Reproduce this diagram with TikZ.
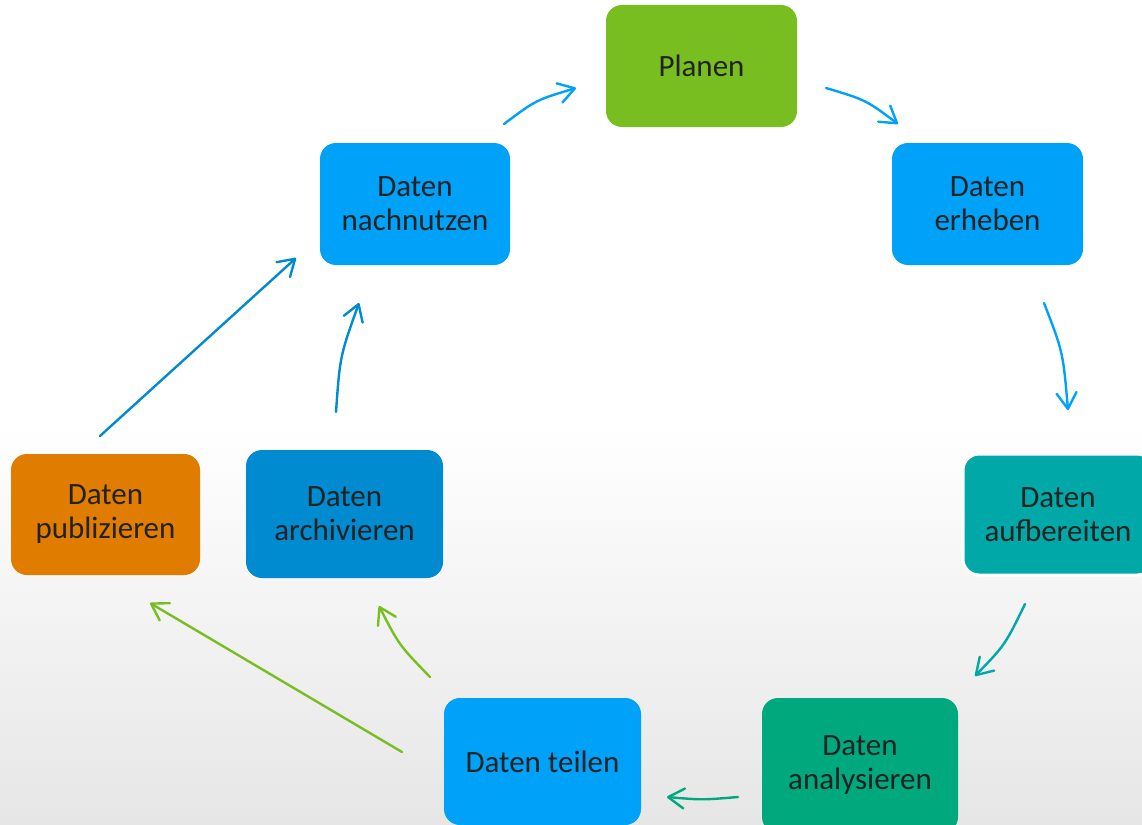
\documentclass[tikz,border=0pt]{standalone}
\usepackage{fontspec}
\setmainfont{Carlito}
\usetikzlibrary{arrows.meta}
\definecolor{cgreen}{HTML}{79BE21}
\definecolor{cblue}{HTML}{00A1F9}
\definecolor{cdblue}{HTML}{008AD0}
\definecolor{cteal}{HTML}{00A9A8}
\definecolor{cmint}{HTML}{00A87E}
\definecolor{corange}{HTML}{E07C00}
\definecolor{ctext}{HTML}{222222}
\definecolor{cbgbot}{HTML}{E6E6E6}
\tikzset{
  box/.style={rectangle, rounded corners=16pt, inner sep=0pt, align=center,
    text=ctext, font=\fontsize{31}{34}\selectfont},
  arr/.style={line width=2.4pt, line cap=round,
    -{Straight Barb[length=16pt,width=20pt,round]}},
}
\begin{document}
\begin{tikzpicture}[x=1pt,y=-1pt]
\useasboundingbox (0,0) rectangle (1142,824);
\fill[white] (0,0) rectangle (1142,824);
\shade[top color=white, bottom color=cbgbot] (0,425) rectangle (1142,824);

% nodes
\node[box, fill=cgreen, minimum width=191pt, minimum height=122pt] (plan) at (701.5,66) {Planen};
\node[box, fill=cblue, minimum width=191pt, minimum height=122pt] (erh) at (987.5,204) {Daten\\erheben};
\node[box, fill=cblue, minimum width=190pt, minimum height=122pt] (nach) at (415,204) {Daten\\nachnutzen};
\node[box, fill=cteal, draw=white, line width=3pt, minimum width=190pt, minimum height=121pt] (aufb) at (1058,514.5) {Daten\\aufbereiten};
\node[box, fill=corange, minimum width=189pt, minimum height=121pt] (publ) at (105.5,514.5) {\raisebox{-2pt}{\begin{tabular}{@{}c@{}}Daten\\publizieren\end{tabular}}};
\node[box, fill=cdblue, minimum width=197pt, minimum height=128pt] (arch) at (344.5,514) {Daten\\archivieren};
\node[box, fill=cblue, minimum width=197pt, minimum height=127pt] (teil) at (542.5,761.5) {Daten teilen};
\node[box, fill=cmint, minimum width=196pt, minimum height=135pt] (anal) at (860,765.5) {Daten\\analysieren};

% connector end points
\coordinate (a1s) at (504,124);  \coordinate (a1e) at (576,88);
\coordinate (a2s) at (826,88);   \coordinate (a2e) at (898,124);
\coordinate (a3s) at (1044,303); \coordinate (a3e) at (1068,410);
\coordinate (a4s) at (1025,604); \coordinate (a4e) at (975,676);
\coordinate (a5s) at (738,797);  \coordinate (a5e) at (667,797);
\coordinate (a6s) at (430,677);  \coordinate (a6e) at (379,606);
\coordinate (a7s) at (402,752);  \coordinate (a7e) at (150,603);
\coordinate (a8s) at (336,412);  \coordinate (a8e) at (359,303);
\coordinate (a9s) at (100,436);  \coordinate (a9e) at (296,258);

% connectors
\draw[arr, cblue] (a1s) .. controls (536,100) .. (a1e);
\draw[arr, cblue] (a2s) .. controls (866,100) .. (a2e);
\draw[arr, cblue] (a3s) .. controls (1063,352) .. (a3e);
\draw[arr, cteal] (a4s) .. controls (1005,645) .. (a4e);
\draw[arr, cmint] (a5s) .. controls (702,800) .. (a5e);
\draw[arr, cgreen] (a6s) .. controls (399,645) .. (a6e);
\draw[arr, cgreen] (a7s) -- (a7e);
\draw[arr, cdblue] (a8s) .. controls (340,356) .. (a8e);
\draw[arr, cdblue] (a9s) -- (a9e);
\end{tikzpicture}
\end{document}
